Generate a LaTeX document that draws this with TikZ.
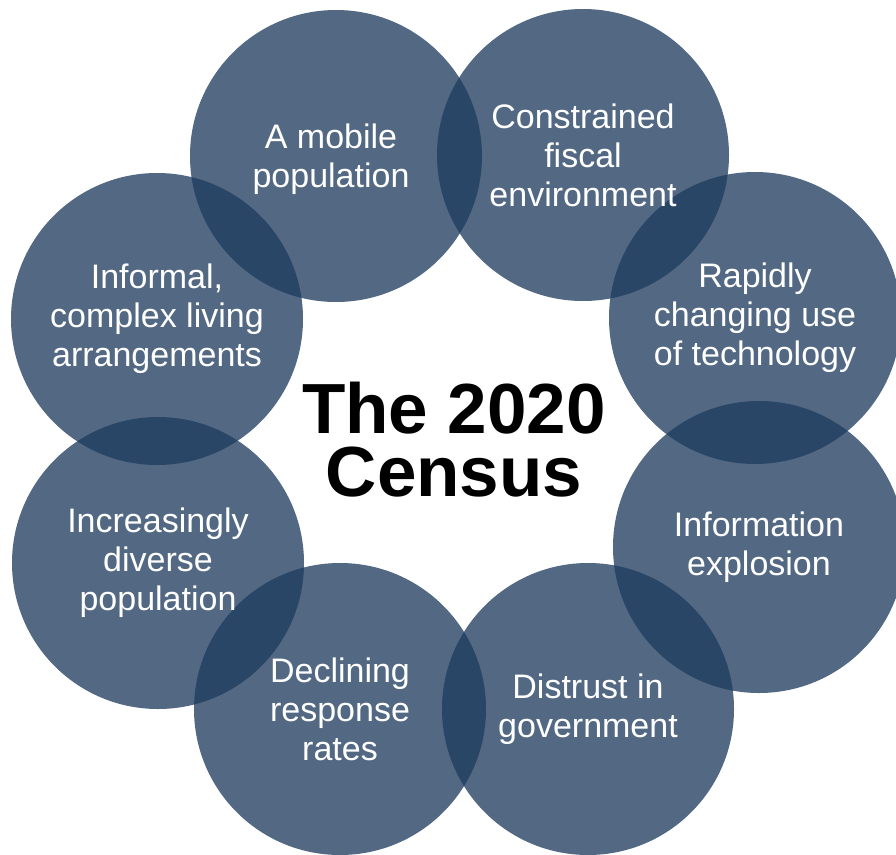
\documentclass[tikz,border=0pt]{standalone}
\usepackage{fontspec}
\setmainfont{Liberation Sans}
\definecolor{censusblue}{RGB}{30,59,94}
\tikzset{
  bubble/.style={circle, minimum size=292pt, inner sep=0pt, fill=censusblue, fill opacity=0.77},
  bubbletext/.style={align=center, text=white, inner sep=0pt, font=\fontsize{34}{39}\selectfont},
  titletext/.style={align=center, text=black, inner sep=0pt, font=\fontsize{71}{63}\selectfont\bfseries}
}
\begin{document}
\begin{tikzpicture}[x=1pt,y=-1pt]
\useasboundingbox (0,0) rectangle (896,854);
\node[bubble] (c1) at (336,156) {};
\node[bubble] (c2) at (583,155) {};
\node[bubble] (c3) at (755,318) {};
\node[bubble] (c4) at (759,547) {};
\node[bubble] (c5) at (588,709) {};
\node[bubble] (c6) at (340,709) {};
\node[bubble] (c7) at (158,563) {};
\node[bubble] (c8) at (157,319) {};
\node[bubbletext] (t1) at ([shift={(-5,3)}]c1) {A mobile\\population};
\node[bubbletext] (t2) at (c2) {Constrained\\fiscal\\environment};
\node[bubbletext] (t3) at (c3) {Rapidly\\changing use\\of technology};
\node[bubbletext] (t4) at (c4) {Information\\explosion};
\node[bubbletext] (t5) at (c5) {Distrust in\\government};
\node[bubbletext] (t6) at (c6) {Declining\\response\\rates};
\node[bubbletext] (t7) at (c7) {Increasingly\\diverse\\population};
\node[bubbletext] (t8) at (c8) {Informal,\\complex living\\arrangements};
\node[titletext] (title) at (454,440) {The 2020\\Census};
\end{tikzpicture}
\end{document}
